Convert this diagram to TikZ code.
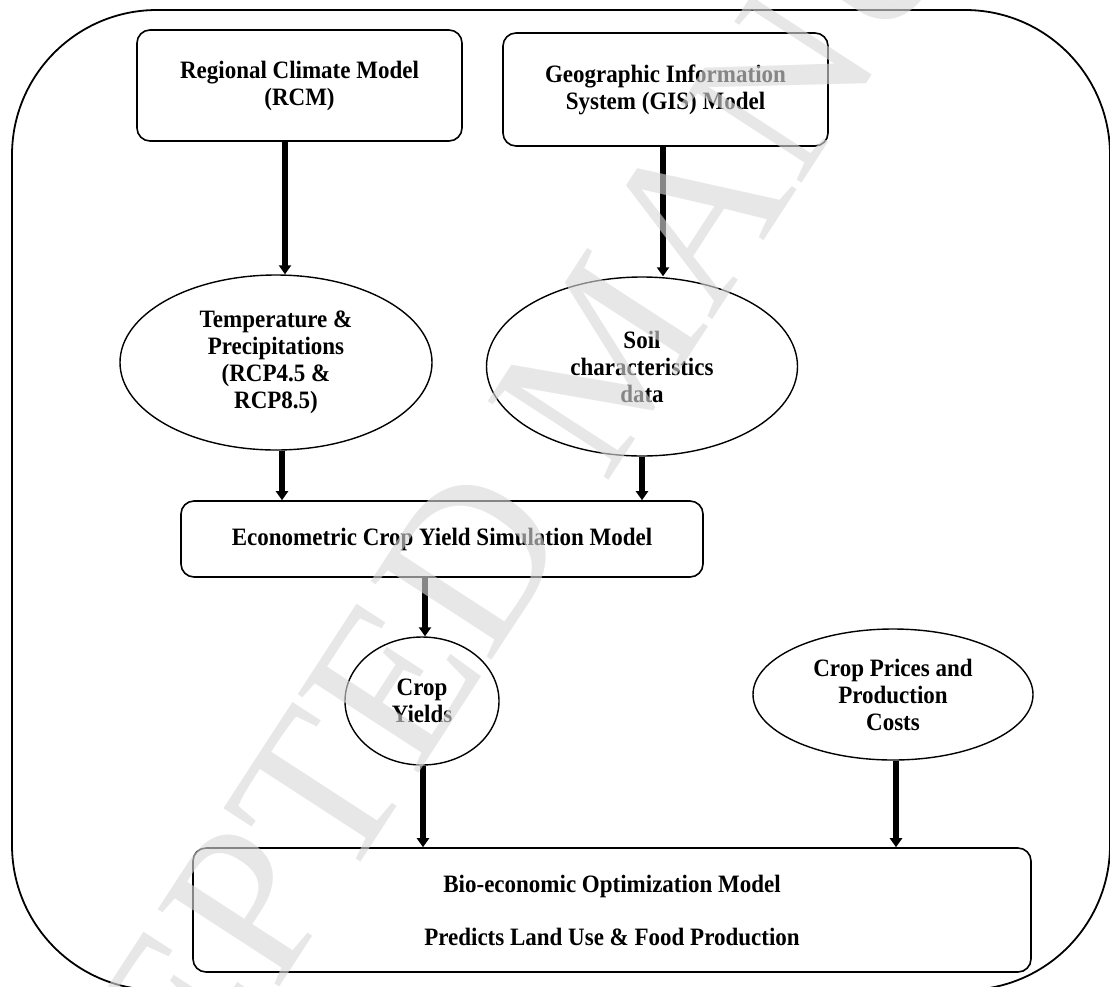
\documentclass[tikz,border=0pt]{standalone}
\usepackage{fontspec}
\setmainfont{Liberation Serif}
\newfontfamily\condfont{Liberation Serif}[FakeStretch=0.92]
\usetikzlibrary{arrows.meta,shapes.geometric}
\newcommand\lblfont{\condfont\bfseries\fontsize{25}{27}\selectfont}
\newcommand\wmfont{\fontsize{220}{220}\selectfont}
\begin{document}
\begin{tikzpicture}[x=1pt,y=-1pt,
  box/.style={draw, line width=1.6pt, rounded corners=13pt, align=center, inner sep=0pt, font=\lblfont},
  oval/.style={draw, ellipse, line width=1.4pt, align=center, inner sep=0pt, font=\lblfont},
  arr/.style={line width=5.5pt, -{Triangle[length=9pt,width=12pt]}},
  frame/.style={draw, line width=1.8pt, rounded corners=145pt},
  watermark/.style={text=black!15, opacity=0.62, font=\wmfont, anchor=base, rotate=57, inner sep=0pt}
]
\useasboundingbox (0,0) rectangle (1110,986);
\path[frame] (12,10) rectangle (1110,990);

\node[box, minimum width=325pt, minimum height=111pt] (rcm) at (299.5,85.5) {Regional Climate Model\\(RCM)};
\node[box, minimum width=325pt, minimum height=113pt] (gis) at (665.5,89.5) {Geographic Information\\System (GIS) Model};
\node[oval, minimum width=312pt, minimum height=175pt] (temp) at (276,362.5) {Temperature \&\\Precipitations\\(RCP4.5 \&\\RCP8.5)};
\node[oval, minimum width=311pt, minimum height=179pt] (soil) at (642,366.5) {Soil\\characteristics\\data};
\node[box, minimum width=522pt, minimum height=76pt] (econ) at (442,539) {Econometric Crop Yield Simulation Model};
\node[oval, minimum width=154pt, minimum height=128pt] (yields) at (422,701) {Crop\\Yields};
\node[oval, minimum width=280pt, minimum height=131pt] (prices) at (893,694.5) {Crop Prices and\\Production\\Costs};
\node[box, minimum width=838pt, minimum height=124pt] (bio) at (612,910) {Bio-economic Optimization Model\\[26pt]Predicts Land Use \& Food Production};

\coordinate (xa) at (285,0);
\coordinate (xb) at (663,0);
\coordinate (xc) at (282,0);
\coordinate (xd) at (642,0);
\coordinate (xe) at (425,0);
\coordinate (xf) at (423,0);
\coordinate (xg) at (896,0);

\draw[arr] (rcm.south -| xa) -- (temp.north -| xa);
\draw[arr] (gis.south -| xb) -- (soil.north -| xb);
\draw[arr] (temp.south -| xc) -- (econ.north -| xc);
\draw[arr] (soil.south -| xd) -- (econ.north -| xd);
\draw[arr] (econ.south -| xe) -- (yields.north -| xe);
\draw[arr] (yields.south -| xf) -- (bio.north -| xf);
\draw[arr] (prices.south -| xg) -- (bio.north -| xg);

\node[watermark] (wm) at (667,391) {ACCEPTED MANUSCRIPT};
\end{tikzpicture}
\end{document}
